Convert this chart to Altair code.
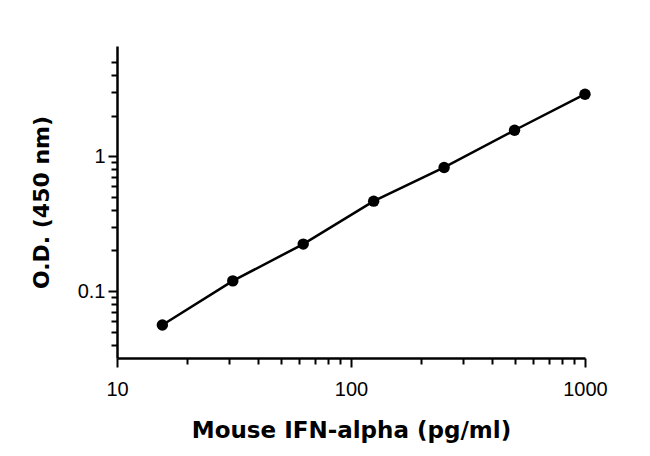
import altair as alt
import pandas as pd

conc = [15.625, 31.25, 62.5, 125, 250, 500, 1000]
od = [0.056, 0.119, 0.223, 0.464, 0.825, 1.557, 2.88]

x_ticks = [10, 20, 30, 40, 50, 60, 70, 80, 90, 100, 200, 300, 400, 500, 600, 700, 800, 900, 1000]
y_ticks = [0.04, 0.05, 0.06, 0.07, 0.08, 0.09, 0.1, 0.2, 0.3, 0.4, 0.5, 0.6, 0.7, 0.8, 0.9, 1, 2, 3, 4, 5]

df = pd.DataFrame({"conc": conc, "od": od})

major_test = "abs(log(datum.value)/LN10 - round(log(datum.value)/LN10)) < 1e-6"

x_enc = alt.X(
    "conc:Q",
    scale=alt.Scale(type="log", domain=[10, 1000], nice=False),
    axis=alt.Axis(
        title="Mouse IFN-alpha (pg/ml)",
        values=x_ticks,
        labelExpr=f"{major_test} ? format(datum.value, 'd') : ''",
        tickSize={"condition": {"test": major_test, "value": 9}, "value": 6},
        grid=False,
        domainColor="black", domainWidth=2.5,
        tickColor="black", tickWidth=2,
        labelFont="Liberation Sans", labelFontSize=20, labelColor="black",
        labelPadding=12, labelOverlap=False, labelFlush=False,
        titleFont="DejaVu Sans", titleFontSize=23, titleFontWeight="bold",
        titleColor="black", titlePadding=20,
    ),
)
y_enc = alt.Y(
    "od:Q",
    scale=alt.Scale(type="log", domain=[0.0319, 6.56], nice=False),
    axis=alt.Axis(
        title="O.D. (450 nm)",
        values=y_ticks,
        labelExpr=f"{major_test} ? format(datum.value, '') : ''",
        tickSize={"condition": {"test": major_test, "value": 9}, "value": 6},
        grid=False,
        domainColor="black", domainWidth=2.5,
        tickColor="black", tickWidth=2,
        labelFont="Liberation Sans", labelFontSize=20, labelColor="black",
        labelPadding=3, labelOverlap=False,
        titleFont="DejaVu Sans", titleFontSize=22, titleFontWeight="bold",
        titleColor="black", titlePadding=24,
    ),
)

base = alt.Chart(df).encode(x=x_enc, y=y_enc)
line = base.mark_line(color="black", strokeWidth=2.5)
pts = base.mark_circle(color="black", size=130, opacity=1)

chart = (line + pts).properties(
    width=468, height=312,
    autosize=alt.AutoSizeParams(type="none"),
    padding={"left": 109, "top": 38, "right": 57, "bottom": 90},
).configure(background="white").configure_view(stroke=None)

chart.save("out.html", embed_options={"renderer": "svg", "actions": False})
